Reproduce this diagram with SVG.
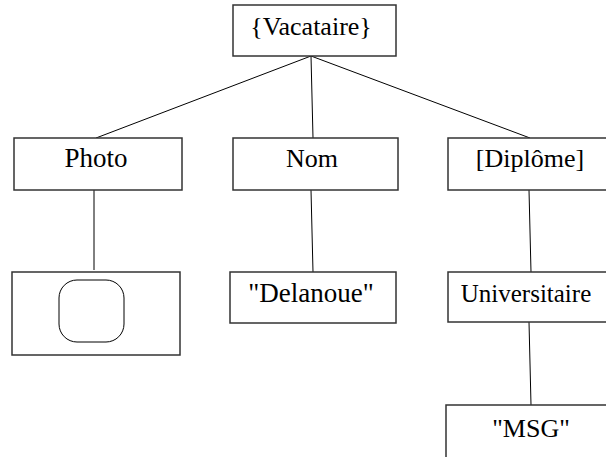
<svg xmlns="http://www.w3.org/2000/svg" width="606" height="457" viewBox="0 0 606 457">
<style>
.box{fill:#fff;stroke:#333;stroke-width:1.5}
.lbl{font-family:"Liberation Serif","Times New Roman",serif;font-size:26px;fill:#000;text-anchor:middle}
.con line{stroke:#000;stroke-width:1}
</style>
<rect width="606" height="457" fill="#fff"/>
<g class="con" id="connectors">
<line x1="311" y1="56" x2="96" y2="138"/>
<line x1="311" y1="56" x2="313" y2="138"/>
<line x1="311" y1="56" x2="530" y2="138"/>
<line x1="94" y1="190" x2="94" y2="270"/>
<line x1="311" y1="190" x2="313" y2="272"/>
<line x1="529" y1="190" x2="531" y2="272"/>
<line x1="529" y1="322" x2="531" y2="405"/>
</g>
<g id="vacataire"><rect class="box" x="233" y="5" width="163" height="51"/><text class="lbl" x="311" y="35">{Vacataire}</text></g>
<g id="photo"><rect class="box" x="14" y="138" width="168" height="52"/><text class="lbl" x="96" y="167" style="font-size:27px">Photo</text></g>
<g id="nom"><rect class="box" x="233" y="138" width="165" height="52"/><text class="lbl" x="312" y="167">Nom</text></g>
<g id="diplome"><rect class="box" x="448" y="138" width="160" height="52"/><text class="lbl" x="530" y="167">[Diplôme]</text></g>
<g id="image"><rect class="box" x="12" y="272" width="168" height="83"/><rect x="59" y="280" width="65" height="62" rx="18" fill="#fff" stroke="#000" stroke-width="1"/></g>
<g id="delanoue"><rect class="box" x="230" y="272" width="166" height="51"/><text class="lbl" x="311" y="302" style="font-size:27px">"Delanoue"</text></g>
<g id="universitaire"><rect class="box" x="448" y="272" width="160" height="50"/><text class="lbl" x="526" y="302" style="font-size:25px">Universitaire</text></g>
<g id="msg"><rect class="box" x="446" y="405" width="162" height="60"/><text class="lbl" x="531" y="437">"MSG"</text></g>
</svg>
